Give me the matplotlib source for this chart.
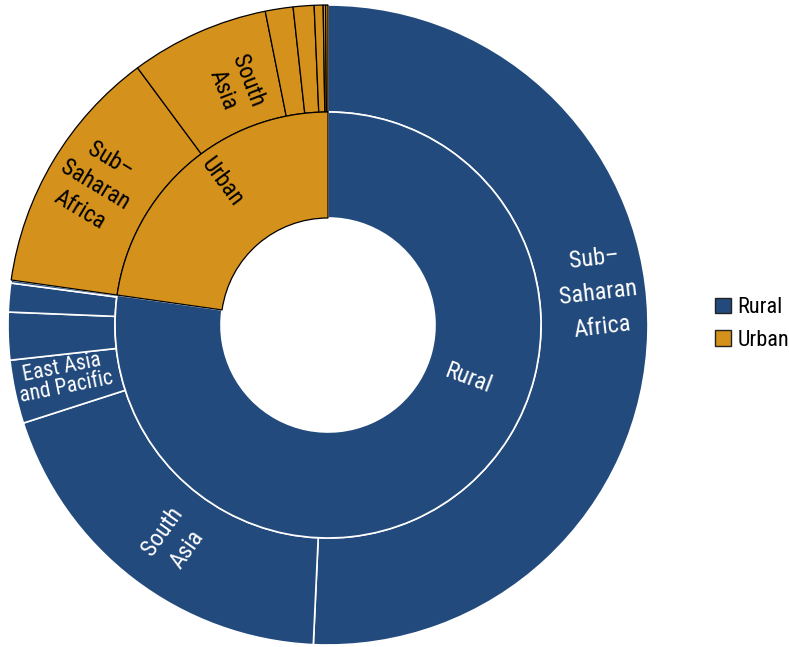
import numpy as np
import matplotlib.pyplot as plt
from matplotlib import font_manager
from matplotlib.patches import Patch

# prefer a condensed face, as in the original
names = {(f.name, f.stretch) for f in font_manager.fontManager.ttflist}
fam, stretch = 'Roboto', 'normal'
for n in ['Roboto Condensed', 'Liberation Sans Narrow', 'DejaVu Sans']:
    hits = [s for nm, s in names if nm == n and s not in ('normal', 400, 500)]
    if n != 'DejaVu Sans' and any(nm == n for nm, s in names):
        fam, stretch = n, 'normal'
        break
    if n == 'DejaVu Sans' and hits:
        fam, stretch = n, 'condensed'
        break
plt.rcParams['font.family'] = [fam, 'DejaVu Sans']
plt.rcParams['font.stretch'] = stretch

# share of total (%)
groups = ['Rural', 'Urban']
regions = ['Sub-Saharan Africa', 'South Asia', 'East Asia and Pacific',
           'Latin America and Caribbean', 'Middle East and North Africa',
           'Europe and Central Asia', 'North America']
rural = [50.7, 19.3, 3.2, 2.4, 1.45, 0.15, 0.0]
urban = [12.6, 7.0, 1.4, 1.05, 0.45, 0.12, 0.12]

blue = '#234A7C'
orange = '#D4911B'

fig = plt.figure(figsize=(7.89, 6.47), dpi=100)
# square box of 640 px, centre at (328, 325) px
ax = fig.add_axes([8 / 789, 2 / 647, 640 / 789, 640 / 647])
ax.axis('off')

R_out, R_mid, R_hole = 1.0, 213 / 320, 107 / 320

# outer ring: rural regions then urban regions, clockwise from top
outer_vals, outer_cols, outer_edge = [], [], []
for vals, col, ec in [(rural, blue, 'white'), (urban, orange, 'black')]:
    for v in vals:
        if v > 0:
            outer_vals.append(v)
            outer_cols.append(col)
            outer_edge.append(ec)

inner_vals = [sum(rural), sum(urban)]

wedges, _ = ax.pie(outer_vals, radius=R_out, colors=outer_cols, startangle=90,
                   counterclock=False, wedgeprops=dict(width=R_out - R_mid))
for w, ec in zip(wedges, outer_edge):
    w.set_edgecolor(ec)
    w.set_linewidth(1.2 if ec == 'white' else 0.9)
    if ec == 'black':
        w.set_zorder(3)

inner, _ = ax.pie(inner_vals, radius=R_mid, colors=[blue, orange], startangle=90,
                  counterclock=False, wedgeprops=dict(width=R_mid - R_hole))
inner[0].set_edgecolor('white')
inner[0].set_linewidth(1.2)
inner[1].set_edgecolor('black')
inner[1].set_linewidth(0.9)
inner[1].set_zorder(3)
ax.set_xlim(-1, 1)
ax.set_ylim(-1, 1)

# labels: text, radius (px), angle (deg), colour, size, line spacing
labels = [
    ('Sub–\nSaharan\nAfrica', 272, 6.8, 'white', 17.5, 1.65),
    ('South\nAsia', 264, -125.4, 'white', 17, 1.4),
    ('East Asia\nand Pacific', 269, -168.7, 'white', 15.5, 0.95),
    ('Rural', 150, -20.7, 'white', 17, 1.2),
    ('Urban', 178, 126.6, 'black', 17, 1.2),
    ('Sub–\nSaharan\nAfrica', 272, 149, 'black', 17, 1.35),
    ('South\nAsia', 257, 111.2, 'black', 17, 1.2),
]
for txt, r, ang, col, fs, ls in labels:
    a = np.deg2rad(ang)
    rot = ang if -90 <= ang <= 90 else (ang + 180 if ang < -90 else ang - 180)
    ax.text(r / 320 * np.cos(a), r / 320 * np.sin(a), txt, color=col, fontsize=fs,
            rotation=rot, rotation_mode='anchor', ha='center', va='center',
            linespacing=ls, multialignment='center')

handles = [Patch(facecolor=blue, edgecolor='#222222', label='Rural'),
           Patch(facecolor=orange, edgecolor='#222222', label='Urban')]
fig.legend(handles=handles, loc='center left', bbox_to_anchor=(715 / 789, 1 - 324 / 647),
           frameon=False, fontsize=16, handlelength=0.7, handleheight=0.7,
           handletextpad=0.3, labelspacing=0.5, borderpad=0, borderaxespad=0)

fig.savefig('out.png', dpi=100)
